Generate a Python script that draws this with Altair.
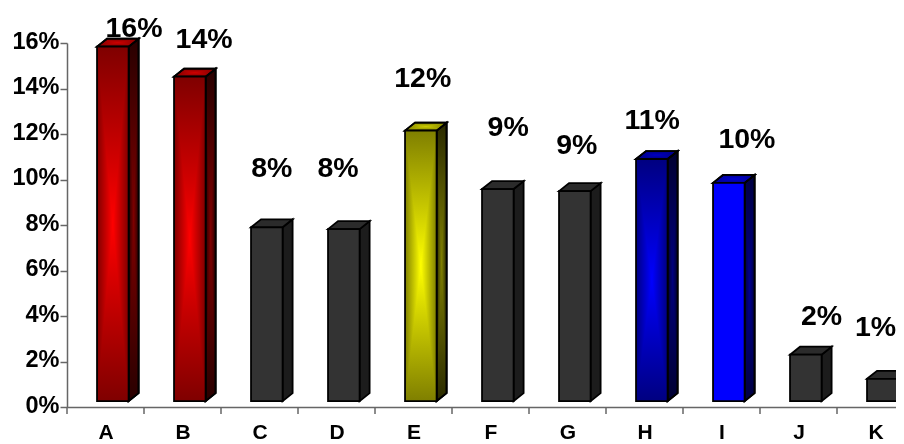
import altair as alt
import pandas as pd

categories = ["A", "B", "C", "D", "E", "F", "G", "H", "I", "J", "K"]
values = [15.84, 14.52, 7.9, 7.82, 12.15, 9.58, 9.49, 10.9, 9.85, 2.3, 1.24]
label_text = ["16%", "14%", "8%", "8%", "12%", "9%", "9%", "11%", "10%", "2%", "1%"]
label_x = [0.87, 1.78, 2.66, 3.52, 4.62, 5.73, 6.62, 7.6, 8.83, 9.8, 10.5]
label_y = [16.66, 16.16, 10.5, 10.5, 14.45, 12.3, 11.5, 12.61, 11.8, 4.01, 3.51]
y_ticks = [0, 2, 4, 6, 8, 10, 12, 14, 16]
x_ticks = list(range(11))

# palette per bar: front (edge, centre), side (edge, centre), top (edge, centre)
GREY = (("#333333", "#333333"), ("#1c1c1c", "#1c1c1c"), ("#2b2b2b", "#2b2b2b"))
RED = (("#7f0000", "#ff0000"), ("#280000", "#800000"), ("#800000", "#cc0000"))
YEL = (("#7f7f00", "#ffff00"), ("#2a2a00", "#808000"), ("#808000", "#cccc00"))
NAVY = (("#000080", "#0000ff"), ("#000030", "#000080"), ("#000080", "#0000c0"))
BLUE = (("#0000ff", "#0000ff"), ("#000040", "#000090"), ("#000090", "#0000d0"))
palettes = [RED, RED, GREY, GREY, YEL, GREY, GREY, NAVY, BLUE, GREY, GREY]

PLOT_W = 829
X_DOMAIN = [0, PLOT_W / 77]
BASE, BAR_OFF, BAR_W, DX, DY = 0.26, 0.39, 0.41, 0.13, 0.35
EDGE = 1.8

xs = alt.Scale(domain=X_DOMAIN, nice=False, zero=False)
ys = alt.Scale(domain=[0, 16], nice=False)
letters = "[" + ",".join(f"'{c}'" for c in categories) + "]"
x_axis = alt.Axis(
    title=None,
    values=[c + 0.5 for c in x_ticks],
    labelExpr=f"{letters}[floor(datum.value)]",
    ticks=False, labelFont="Liberation Sans", labelFontWeight="bold",
    labelFontSize=21, labelColor="black", labelPadding=14, labelFlush=False,
    labelOverlap=False, grid=False, domainColor="#666666", domainWidth=1.5,
)
y_axis = alt.Axis(
    title=None,
    values=y_ticks, labelExpr="datum.value + '%'",
    labelFont="Liberation Sans", labelFontWeight="bold", labelFontSize=23.5,
    labelColor="black", labelPadding=1, labelOffset=-2, tickSize=7, tickColor="#666666",
    tickWidth=1.5, grid=False, domainColor="#666666", domainWidth=1.5,
)
X = lambda f="x": alt.X(f, type="quantitative", scale=xs, axis=x_axis)
Y = lambda f="y": alt.Y(f, type="quantitative", scale=ys, axis=y_axis, stack=None)


def grad(edge, centre, horizontal=False):
    return alt.LinearGradient(
        gradient="linear",
        x1=0, y1=0,
        x2=1 if horizontal else 0,
        y2=0 if horizontal else 1,
        stops=[
            alt.GradientStop(color=edge, offset=0),
            alt.GradientStop(color=centre, offset=0.5),
            alt.GradientStop(color=edge, offset=1),
        ],
    )


layers = []
for i, (cat, v) in enumerate(zip(categories, values)):
    front, side, top = palettes[i]
    l, r = i + BAR_OFF, i + BAR_OFF + BAR_W

    side_df = pd.DataFrame({"x": [r, r + DX], "y": [v, v + DY], "y2": [BASE, BASE + DY]})
    top_df = pd.DataFrame({
        "x": [l, l + DX, r, r + DX],
        "y": [v, v + DY, v + DY, v + DY],
        "y2": [v, v, v, v + DY],
    })
    front_df = pd.DataFrame({"x": [l], "x2": [r], "y": [v], "y2": [BASE]})

    def area(df, pal):
        out = [
            alt.Chart(df).mark_area(fill=grad(*pal), stroke="black", strokeWidth=EDGE)
            .encode(x=X(), y=Y(), y2="y2:Q")
        ]
        if pal[0] != pal[1]:
            out.append(
                alt.Chart(df).mark_area(fill=grad(*pal, horizontal=True), blend="darken")
                .encode(x=X(), y=Y(), y2="y2:Q")
            )
            out.append(
                alt.Chart(df).mark_area(fillOpacity=0, stroke="black", strokeWidth=EDGE)
                .encode(x=X(), y=Y(), y2="y2:Q")
            )
        return out

    layers += area(side_df, side)
    layers += area(top_df, top)

    enc = dict(x=X(), x2="x2:Q", y=Y(), y2="y2:Q")
    layers.append(alt.Chart(front_df).mark_rect(fill=grad(*front)).encode(**enc))
    if front[0] != front[1]:
        layers.append(
            alt.Chart(front_df).mark_rect(fill=grad(*front, horizontal=True), blend="darken").encode(**enc)
        )
    layers.append(
        alt.Chart(front_df).mark_rect(fillOpacity=0, stroke="black", strokeWidth=EDGE).encode(**enc)
    )

tick_df = pd.DataFrame({"x": x_ticks})
ticks = alt.Chart(tick_df).mark_rule(color="#666666", strokeWidth=1.5).encode(
    x=X(), y=alt.value(364), y2=alt.value(371)
)

labels_df = pd.DataFrame({"x": label_x, "y": label_y, "t": label_text})
labels = alt.Chart(labels_df).mark_text(
    font="Liberation Sans", fontWeight="bold", fontSize=28.5, color="black",
    align="center", baseline="middle", clip=False,
).encode(x=X(), y=Y(), text="t:N")

chart = alt.layer(*layers, ticks, labels).properties(
    width=PLOT_W, height=364,
    autosize=alt.AutoSizeParams(type="none"),
    padding={"left": 59, "top": 35, "right": 0, "bottom": 37},
    background="white",
).configure_view(stroke=None)

chart.save("out.html", embed_options={"renderer": "svg", "actions": False})
